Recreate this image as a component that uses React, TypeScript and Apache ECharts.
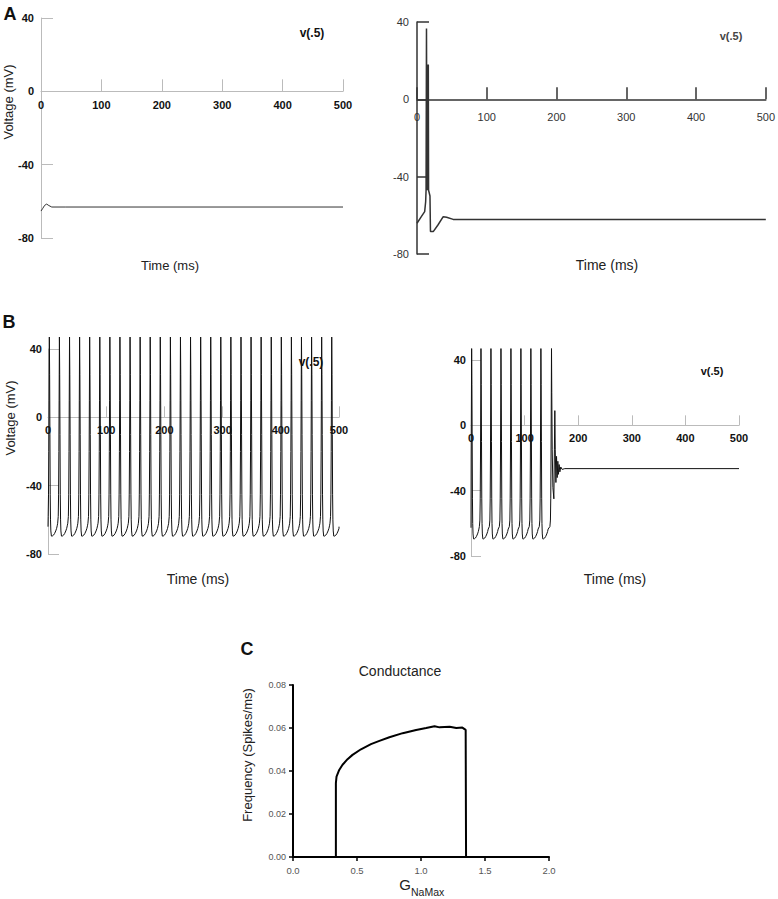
import React, { useEffect, useRef } from "react";
import * as echarts from "echarts";

// ---------- data ----------
const TIME_MIN = 0;
const TIME_MAX = 500;
const TIME_STEP = 100;
const VOLT_MIN = -80;
const VOLT_MAX = 40;
const VOLT_STEP = 40;

// Panel A, left: resting trace (ms, mV)
const A_LEFT_TRACE: [number, number][] = [
  [0, -65.3], [3, -63.8], [6, -62.2], [9.4, -61.5], [13, -62.3], [17.8, -63.1], [40, -63.1], [500, -63.1],
];

// Panel A, right: single spike then rest (ms, mV)
const A_RIGHT_TRACE: [number, number][] = [
  [0, -64.1], [6.2, -60.7], [11, -58.1], [12.4, -53], [13, -47], [13.6, 36.7], [14.2, -47], [14.6, 18],
  [15.0, -47], [15.4, 18], [15.8, -47], [16.2, 18], [16.6, -47], [17.6, -47], [18.6, -50], [19.3, -68.4],
  [23.3, -68.4], [30, -65], [37.6, -60.7], [42.4, -61], [51.9, -62.1], [500, -62.1],
];

// Spike waveform relative to each peak time (ms offset, mV)
const SPIKE_SHAPE: [number, number][] = [
  [-3, -62], [-2, -58], [-1.4, -45], [-0.9, -20], [-0.5, 10], [0, 47], [0.5, 25], [1, -10], [1.5, -45],
  [2, -60], [2.6, -66.5], [3.5, -69.5], [5, -69.5], [7, -69], [9, -68], [11, -66.5], [12.5, -65], [13.5, -63.5],
];

// Panel B, left: spike peak times (ms)
const B_LEFT_SPIKES = [
  2.3, 19.6, 37, 54.3, 71.6, 89, 106.3, 123.6, 141, 158.3, 175.6, 192.9, 210.3, 227.6, 244.9,
  262.3, 279.6, 296.9, 314.2, 331.6, 348.9, 366.2, 383.6, 400.9, 418.2, 435.5, 452.9, 470.2, 487.5,
];
const B_LEFT_START: [number, number][] = [[0, -64]];
const B_LEFT_END: [number, number][] = [[500, -64]];

// Panel B, right: spike peak times (ms) then failure and plateau
const B_RIGHT_SPIKES = [1.2, 18.6, 37.2, 55.9, 74.5, 93.1, 111.7, 130.4, 150.2];
const B_RIGHT_START: [number, number][] = [[0, -62.7]];
const B_RIGHT_TAIL: [number, number][] = [
  [150.7, 20], [151.5, -15], [152.8, -38], [154.6, -45], [155.6, -15], [156.4, 9], [157.2, -15],
  [158.4, -35], [159.6, -19], [160.8, -32], [162, -22], [163.2, -30], [164.4, -24], [165.8, -28.5],
  [167.5, -25.5], [170, -27], [175, -26.5], [500, -26.5],
];

// Panel C: frequency vs G_NaMax
const C_TICK_MAX_X = 2;
const C_TICK_MAX_Y = 0.08;
const C_CURVE: [number, number][] = [
  [0.335, 0], [0.335, 0.0344], [0.34, 0.0374], [0.361, 0.0405], [0.387, 0.0429], [0.426, 0.0455],
  [0.465, 0.0475], [0.531, 0.0501], [0.609, 0.0525], [0.675, 0.054], [0.753, 0.0557], [0.857, 0.0576],
  [0.962, 0.0591], [1.04, 0.06], [1.106, 0.0608], [1.145, 0.0603], [1.224, 0.0606], [1.276, 0.06],
  [1.323, 0.0602], [1.349, 0.0591], [1.352, 0], [2.0, 0],
];

// ---------- helpers ----------
function spikeTrain(
  start: [number, number][],
  times: number[],
  shape: [number, number][],
  tail: [number, number][] | null,
  end: [number, number][]
): [number, number][] {
  const pts: [number, number][] = start.map((p) => [p[0], p[1]]);
  times.forEach((t0, i) => {
    const last = i === times.length - 1;
    shape.forEach(([dt, v]) => {
      if (tail && last && dt > 0) return;
      const t = t0 + dt;
      if (t <= pts[pts.length - 1][0]) return;
      if (t > TIME_MAX) return;
      pts.push([t, v]);
    });
  });
  if (tail) tail.forEach((p) => pts.push([p[0], p[1]]));
  end.forEach((p) => pts.push([p[0], p[1]]));
  return pts;
}

const FONT = "'Liberation Sans', Arial, sans-serif";

type GridBox = { left: number; top: number; width: number; height: number };
const GRIDS: GridBox[] = [
  { left: 41, top: 18, width: 302, height: 220 },
  { left: 417, top: 22, width: 350, height: 232 },
  { left: 48, top: 349, width: 291, height: 205 },
  { left: 471, top: 360, width: 268, height: 196 },
  { left: 293, top: 685, width: 256, height: 172 },
];

function voltAxes(
  gridIndex: number,
  color: string,
  lineWidth: number,
  labelColor: string,
  bold: boolean,
  tickLen: number,
  xMargin: number,
  yMargin: number
) {
  const h = GRIDS[gridIndex].height;
  // distance from the grid bottom up to the 0 mV line
  const zeroUp = (h * (0 - VOLT_MIN)) / (VOLT_MAX - VOLT_MIN);
  const label = {
    fontSize: 11,
    fontWeight: bold ? "bold" : "normal",
    color: labelColor,
    fontFamily: FONT,
  };
  const x = {
    gridIndex,
    type: "value",
    min: TIME_MIN,
    max: TIME_MAX,
    interval: TIME_STEP,
    offset: -zeroUp,
    axisLine: { show: true, onZero: false, lineStyle: { color, width: lineWidth } },
    axisTick: { show: true, inside: true, length: tickLen, lineStyle: { color, width: lineWidth } },
    axisLabel: { ...label, margin: xMargin },
    splitLine: { show: false },
  };
  const y = {
    gridIndex,
    type: "value",
    min: VOLT_MIN,
    max: VOLT_MAX,
    interval: VOLT_STEP,
    axisLine: { show: true, onZero: false, lineStyle: { color, width: lineWidth } },
    axisTick: { show: true, inside: true, length: tickLen, lineStyle: { color, width: lineWidth } },
    axisLabel: { ...label, margin: yMargin },
    splitLine: { show: false },
  };
  return { x, y };
}

function text(
  t: string,
  x: number,
  y: number,
  font: string,
  fill = "#111",
  align = "center",
  rotation = 0
) {
  return {
    type: "text",
    x,
    y,
    rotation,
    silent: true,
    style: { text: t, font, fill, textAlign: align, textVerticalAlign: "middle" },
  };
}

export default function App() {
  const ref = useRef<HTMLDivElement>(null);

  useEffect(() => {
    if (!ref.current) return;
    const chart = echarts.init(ref.current, undefined, { renderer: "svg" });

    const aL = voltAxes(0, "#bbb", 1, "#111", true, 12, 8, 7);
    const aR = voltAxes(1, "#333", 1.5, "#333", false, 12, 12, 8);
    const bL = voltAxes(2, "#bbb", 1, "#111", true, 11, 7, 6);
    const bR = voltAxes(3, "#bbb", 1, "#111", true, 10, 7, 5);

    const bLeftData = spikeTrain(B_LEFT_START, B_LEFT_SPIKES, SPIKE_SHAPE, null, B_LEFT_END);
    const bRightData = spikeTrain(B_RIGHT_START, B_RIGHT_SPIKES, SPIKE_SHAPE, B_RIGHT_TAIL, []);

    const line = (idx: number, data: [number, number][], color: string, width: number) => ({
      type: "line",
      xAxisIndex: idx,
      yAxisIndex: idx,
      data,
      symbol: "none",
      showSymbol: false,
      clip: false,
      silent: true,
      lineStyle: { color, width },
    });

    const cLabel = { fontSize: 9, color: "#555", fontFamily: FONT };

    chart.setOption({
      animation: false,
      backgroundColor: "#fff",
      grid: GRIDS.map((g) => ({ ...g, containLabel: false })),
      xAxis: [
        aL.x,
        aR.x,
        bL.x,
        bR.x,
        {
          gridIndex: 4,
          type: "value",
          min: 0,
          max: C_TICK_MAX_X,
          interval: 0.5,
          axisLine: { show: true, onZero: false, lineStyle: { color: "#000", width: 2 } },
          axisTick: { show: true, length: 4, lineStyle: { color: "#000", width: 1.5 } },
          axisLabel: { ...cLabel, fontSize: 9.5, margin: 8, formatter: (v: number) => v.toFixed(1) },
          splitLine: { show: false },
        },
      ],
      yAxis: [
        aL.y,
        aR.y,
        bL.y,
        bR.y,
        {
          gridIndex: 4,
          type: "value",
          min: 0,
          max: C_TICK_MAX_Y,
          interval: 0.02,
          axisLine: { show: true, onZero: false, lineStyle: { color: "#000", width: 2 } },
          axisTick: { show: true, length: 4, lineStyle: { color: "#000", width: 1.5 } },
          axisLabel: { ...cLabel, margin: 7, formatter: (v: number) => v.toFixed(2) },
          splitLine: { show: false },
        },
      ],
      series: [
        line(0, A_LEFT_TRACE, "#333", 1),
        line(1, A_RIGHT_TRACE, "#333", 1.5),
        line(2, bLeftData, "#111", 1),
        line(3, bRightData, "#111", 1),
        line(4, C_CURVE, "#000", 2),
      ],
      graphic: [
        text("A", 10, 14, `bold 18px ${FONT}`),
        text("B", 9, 322, `bold 18px ${FONT}`),
        text("C", 247, 649, `bold 18px ${FONT}`),
        text("v(.5)", 312, 33, `bold 12px ${FONT}`),
        text("v(.5)", 731, 36, `bold 11px ${FONT}`, "#444"),
        text("v(.5)", 311, 362, `bold 12px ${FONT}`),
        text("v(.5)", 712, 371, `bold 11px ${FONT}`),
        text("Voltage (mV)", 8, 102, `13px ${FONT}`, "#222", "center", Math.PI / 2),
        text("Voltage (mV)", 10, 418, `13px ${FONT}`, "#222", "center", Math.PI / 2),
        text("Time (ms)", 170, 265, `13px ${FONT}`, "#222"),
        text("Time (ms)", 607, 265, `14px ${FONT}`, "#222"),
        text("Time (ms)", 198, 579, `14px ${FONT}`, "#222"),
        text("Time (ms)", 615, 579, `14px ${FONT}`, "#222"),
        text("Conductance", 400, 671, `14px ${FONT}`, "#222"),
        text("Frequency (Spikes/ms)", 247, 755, `13px ${FONT}`, "#222", "center", Math.PI / 2),
        text("G", 411, 884, `15px ${FONT}`, "#222", "right"),
        text("NaMax", 411, 892, `10.5px ${FONT}`, "#222", "left"),
      ],
    });

    return () => chart.dispose();
  }, []);

  return (
    <div
      ref={ref}
      style={{ position: "absolute", left: 0, top: 0, width: 778, height: 899, background: "#fff" }}
    />
  );
}
